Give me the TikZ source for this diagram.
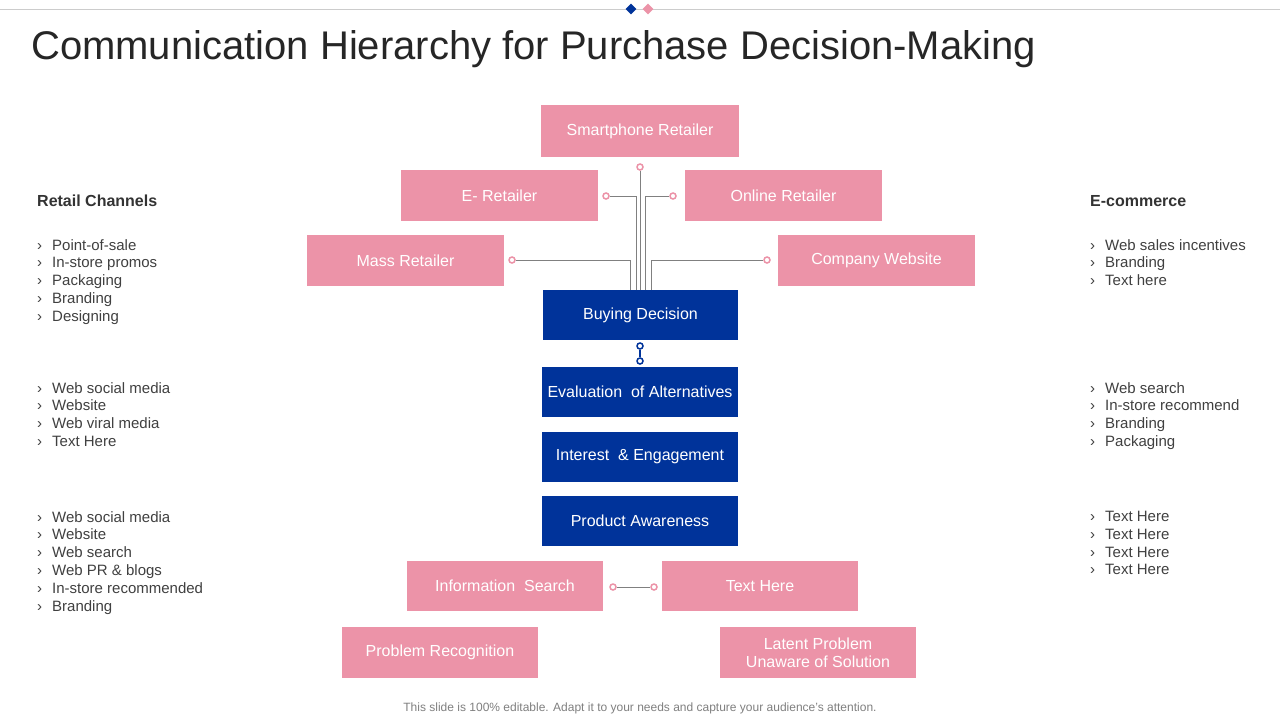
\documentclass[tikz,border=0pt]{standalone}
\usepackage{fontspec}
\usetikzlibrary{shapes.geometric}
\setmainfont{Liberation Sans}
\definecolor{pk}{HTML}{EC93A8}
\definecolor{bl}{HTML}{00339A}
\definecolor{tx}{HTML}{404040}
\begin{document}
\begin{tikzpicture}[x=1pt,y=-1pt,
 pbox/.style={fill=pk,text=white,font=\fontsize{16}{18}\selectfont,align=center,inner sep=0},
 bbox/.style={fill=bl,text=white,font=\fontsize{16}{18}\selectfont,align=center,inner sep=0},
 ln/.style={draw=gray,line width=1pt},
 pdot/.style={circle,draw=pk,fill=white,line width=1.5pt,inner sep=0,minimum size=6pt},
 bdot/.style={circle,draw=bl,fill=white,line width=1.5pt,inner sep=0,minimum size=6pt},
 lst/.style={anchor=north west,align=left,text=tx,font=\fontsize{15}{17.8}\selectfont,inner sep=0},
 hd/.style={anchor=west,text=black!80,font=\bfseries\fontsize{16}{18}\selectfont,inner sep=0}]
\useasboundingbox[fill=white] (0,0) rectangle (1280,720);
\draw[gray!40,line width=1pt] (0,9) -- (1280,9);
\node[diamond,fill=bl,inner sep=0,minimum size=11pt] (d1) at (631,9) {};
\node[diamond,fill=pk,inner sep=0,minimum size=11pt] (d2) at (648,9) {};
\node[anchor=west,inner sep=0,text=black!85,font=\fontsize{40}{44}\selectfont] (title) at (31,49) {Communication Hierarchy for Purchase Decision-Making};
\newcommand{\bx}[7]{\node[#1,minimum width=#4-#3,minimum height=#6-#5] (#2) at ({(#3+#4)/2},{(#5+#6)/2}) {#7};}
\bx{pbox}{sr}{541}{739}{105}{157}{Smartphone Retailer}
\bx{pbox}{er}{401}{598}{170}{221}{E- Retailer}
\bx{pbox}{or}{685}{882}{170}{221}{Online Retailer}
\bx{pbox}{mr}{307}{504}{235}{286}{Mass Retailer}
\bx{pbox}{cw}{778}{975}{235}{286}{Company Website}
\bx{bbox}{bd}{543}{738}{290}{340}{Buying Decision}
\bx{bbox}{ev}{542}{738}{367}{417}{Evaluation \ of Alternatives}
\bx{bbox}{ie}{542}{738}{432}{482}{Interest \ \& Engagement}
\bx{bbox}{pa}{542}{738}{496}{546}{Product Awareness}
\bx{pbox}{is}{407}{603}{561}{611}{Information \ Search}
\bx{pbox}{th}{662}{858}{561}{611}{Text Here}
\bx{pbox}{pr}{342}{538}{627}{678}{Problem Recognition}
\bx{pbox}{lp}{720}{916}{627}{678}{Latent Problem\\Unaware of Solution}
% connectors
\coordinate (c1) at (640,290); \node[pdot] (p1) at (640,167) {};
\draw[ln] (c1) -- (p1);
\node[pdot] (p2) at (606,196) {};
\draw[ln] (636,290) -- (636,196) -- (p2);
\node[pdot] (p3) at (673,196) {};
\draw[ln] (645,290) -- (645,196) -- (p3);
\node[pdot] (p4) at (512,260) {};
\draw[ln] (630,290) -- (630,260) -- (p4);
\node[pdot] (p5) at (767,260) {};
\draw[ln] (651,290) -- (651,260) -- (p5);
\node[bdot] (b1) at (640,346) {};
\node[bdot] (b2) at (640,361) {};
\draw[bl,line width=1.5pt] (b1) -- (b2);
\node[pdot] (q1) at (613,587) {};
\node[pdot] (q2) at (654,587) {};
\draw[ln] (q1) -- (q2);
% side lists
\node[hd] (h1) at (37,201) {Retail Channels};
\node[hd] (h2) at (1090,201) {E-commerce};
\newcommand{\lstn}[4]{\node[lst] (#1) at (#2,#3) {#4};}
\def\b{›\hspace{10pt}}
\lstn{l1}{37}{239}{\b Point-of-sale\\\b In-store promos\\\b Packaging\\\b Branding\\\b Designing}
\lstn{l2}{37}{382}{\b Web social media\\\b Website\\\b Web viral media\\\b Text Here}
\lstn{l3}{37}{511}{\b Web social media\\\b Website\\\b Web search\\\b Web PR \& blogs\\\b In-store recommended\\\b Branding}
\lstn{r1}{1090}{239}{\b Web sales incentives\\\b Branding\\\b Text here}
\lstn{r2}{1090}{382}{\b Web search\\\b In-store recommend\\\b Branding\\\b Packaging}
\lstn{r3}{1090}{511}{\b Text Here\\\b Text Here\\\b Text Here\\\b Text Here}
\node[text=gray,font=\fontsize{12}{14}\selectfont,inner sep=0] (ft) at (640,708) {This slide is 100\% editable. Adapt it to your needs and capture your audience's attention.};
\end{tikzpicture}
\end{document}
